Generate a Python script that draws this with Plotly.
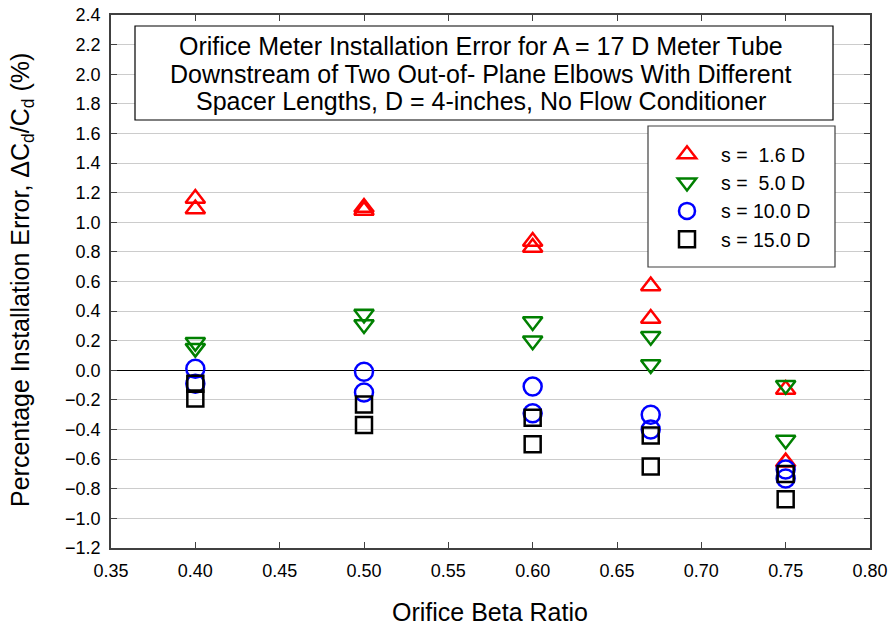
import plotly.graph_objects as go

# ---- data ----
beta = [0.40, 0.40, 0.50, 0.50, 0.60, 0.60, 0.67, 0.67, 0.75, 0.75]
err_s16 = [1.16, 1.09, 1.10, 1.08, 0.87, 0.83, 0.57, 0.35, -0.13, -0.62]
err_s50 = [0.19, 0.15, 0.38, 0.31, 0.33, 0.20, 0.23, 0.04, -0.10, -0.47]
err_s100 = [0.01, -0.09, -0.01, -0.15, -0.11, -0.29, -0.30, -0.40, -0.67, -0.73]
err_s150 = [-0.09, -0.19, -0.23, -0.37, -0.32, -0.50, -0.44, -0.65, -0.70, -0.87]
series_names = ["s =\u00a0\u00a01.6 D", "s =\u00a0\u00a05.0 D", "s = 10.0 D", "s = 15.0 D"]
x_ticks = [0.35, 0.40, 0.45, 0.50, 0.55, 0.60, 0.65, 0.70, 0.75, 0.80]
y_ticks = [-1.2, -1.0, -0.8, -0.6, -0.4, -0.2, 0.0, 0.2, 0.4, 0.6, 0.8, 1.0,
           1.2, 1.4, 1.6, 1.8, 2.0, 2.2, 2.4]
title_lines = ["Orifice Meter Installation Error for A = 17 D Meter Tube",
               "Downstream of Two Out-of- Plane Elbows With Different",
               "Spacer Lengths, D = 4-inches, No Flow Conditioner"]
x_title = "Orifice Beta Ratio"
y_title = "Percentage Installation Error, \u0394C<sub>d</sub>/C<sub>d</sub> (%)"

FONT = "Arial, Liberation Sans, sans-serif"

styles = [
    dict(symbol="triangle-up-open", color="#FF0000", size=17),
    dict(symbol="triangle-down-open", color="#008000", size=17),
    dict(symbol="circle-open", color="#0000FF", size=18),
    dict(symbol="square-open", color="#000000", size=16),
]
values = [err_s16, err_s50, err_s100, err_s150]

fig = go.Figure()
for name, yv, st in zip(series_names, values, styles):
    fig.add_trace(go.Scatter(
        x=beta, y=yv, mode="markers", name=name,
        marker=dict(symbol=st["symbol"], color=st["color"], size=st["size"],
                    line=dict(width=2.5, color=st["color"])),
        cliponaxis=False,
    ))

axis_common = dict(
    showline=True, linecolor="#404040", linewidth=1.5, mirror="ticks",
    ticks="inside", ticklen=6, tickwidth=1.2, tickcolor="#404040",
    tickfont=dict(family=FONT, size=18, color="#000000"),
    automargin=False, ticklabeloverflow="allow",
)

fig.update_xaxes(
    range=[0.35, 0.80], tickvals=x_ticks, tickformat=".2f",
    showgrid=False, zeroline=False, ticklabelstandoff=6,
    **axis_common,
)
fig.update_yaxes(
    range=[-1.2, 2.4], tickvals=y_ticks, tickformat=".1f",
    showgrid=True, gridcolor="#cccccc", gridwidth=1,
    zeroline=True, zerolinecolor="#000000", zerolinewidth=1.2,
    ticklabelstandoff=5,
    **axis_common,
)

W, H = 891, 628
# plot area in window pixels: x 111..870, y 15..548
L, R, T, B = 111, 21, 15, 80
pw, ph = W - L - R, H - T - B

def px_x(p):
    return (p - L) / pw

def px_y(p):
    return (H - B - p) / ph

# axis titles
fig.add_annotation(xref="paper", yref="paper", x=px_x(490), y=px_y(612),
                   xanchor="center", yanchor="middle", text=x_title, showarrow=False,
                   font=dict(family=FONT, size=25, color="#000"))
fig.add_annotation(xref="paper", yref="paper", x=px_x(22), y=px_y(280),
                   xanchor="center", yanchor="middle", text=y_title, showarrow=False,
                   textangle=-90, font=dict(family=FONT, size=25, color="#000"))

# title box
fig.add_shape(type="rect", xref="paper", yref="paper",
              x0=px_x(135), x1=px_x(833), y0=px_y(120), y1=px_y(26),
              line=dict(color="#000", width=1.2), fillcolor="white", layer="above")
for line, yc in zip(title_lines, [46, 73.5, 101]):
    fig.add_annotation(
        xref="paper", yref="paper", x=px_x(481), y=px_y(yc),
        xanchor="center", yanchor="middle", text=line, showarrow=False,
        font=dict(family=FONT, size=25, color="#000"),
    )

# legend box
fig.add_shape(type="rect", xref="paper", yref="paper",
              x0=px_x(648), x1=px_x(835), y0=px_y(267), y1=px_y(126),
              line=dict(color="#404040", width=1.2), fillcolor="white", layer="above")

fig.update_layout(
    width=W, height=H,
    margin=dict(l=L, r=R, t=T, b=B, autoexpand=False),
    paper_bgcolor="white", plot_bgcolor="white",
    font=dict(family=FONT, color="#000"),
    showlegend=True,
    legend=dict(
        x=px_x(653), y=px_y(135), xanchor="left", yanchor="top",
        bgcolor="rgba(0,0,0,0)", borderwidth=0,
        font=dict(family=FONT, size=19.5, color="#000"),
        itemwidth=58,
    ),
)

fig.write_html("out.html", config={"displayModeBar": False},
               post_script="document.body.style.margin='0px';")
